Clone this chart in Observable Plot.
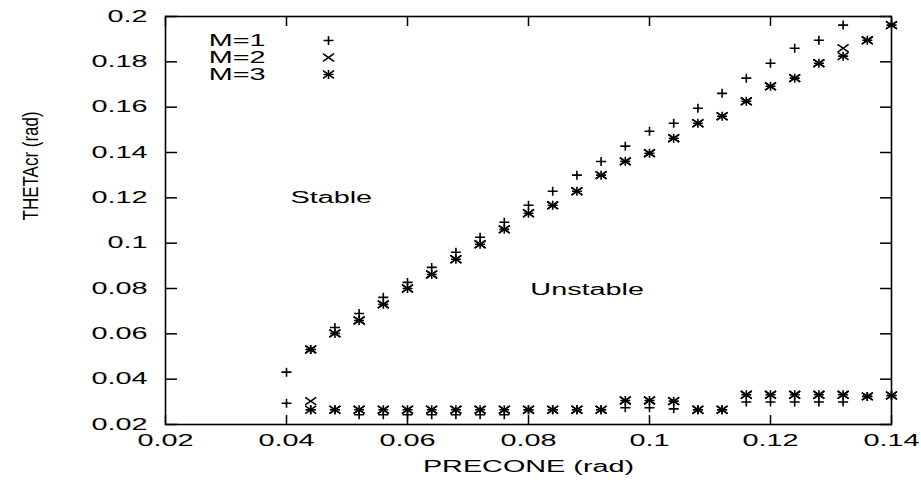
<!DOCTYPE html>
<html>
<head>
<meta charset="utf-8">
<script src="https://cdn.jsdelivr.net/npm/d3@7"></script>
<script src="https://cdn.jsdelivr.net/npm/@observablehq/plot@0.6"></script>
<style>
  html, body { margin: 0; padding: 0; background: white; }
</style>
</head>
<body>
<div id="chart"></div>
<script>
// ---- data ----
const precone = [0.040,0.044,0.048,0.052,0.056,0.060,0.064,0.068,0.072,0.076,0.080,0.084,0.088,0.092,0.096,0.100,0.104,0.108,0.112,0.116,0.120,0.124,0.128,0.132,0.136,0.140];

const m1Upper = [0.0431,0.0531,0.0628,0.0690,0.0761,0.0827,0.0893,0.0960,0.1026,0.1092,0.1167,0.1229,0.1300,0.1360,0.1428,0.1494,0.1529,0.1595,0.1661,0.1728,0.1794,0.1860,0.1895,0.1962,null,null];
const m1Lower = [0.0294,0.0265,0.0265,0.0243,0.0243,0.0243,0.0243,0.0243,0.0243,0.0243,0.0265,0.0265,0.0265,0.0265,0.0274,0.0274,0.0269,0.0265,0.0265,0.0299,0.0299,0.0299,0.0299,0.0299,0.0324,0.0328];

const m2Upper = [null,0.0531,0.0602,0.0659,0.0730,0.0800,0.0862,0.0929,0.0995,0.1061,0.1132,0.1167,0.1229,0.1300,0.1361,0.1397,0.1463,0.1529,0.1560,0.1626,0.1692,0.1728,0.1794,0.1860,0.1895,0.1962];
const m2Lower = [null,0.0303,0.0265,0.0265,0.0265,0.0265,0.0265,0.0265,0.0265,0.0265,0.0265,0.0265,0.0265,0.0265,0.0306,0.0306,0.0303,0.0265,0.0265,0.0331,0.0331,0.0331,0.0331,0.0331,0.0324,0.0328];

const m3Upper = [null,0.0531,0.0602,0.0659,0.0730,0.0800,0.0862,0.0929,0.0995,0.1061,0.1132,0.1167,0.1229,0.1300,0.1361,0.1397,0.1463,0.1529,0.1560,0.1626,0.1692,0.1728,0.1794,0.1825,0.1895,0.1962];
const m3Lower = [null,0.0265,0.0265,0.0265,0.0265,0.0265,0.0265,0.0265,0.0265,0.0265,0.0265,0.0265,0.0265,0.0265,0.0306,0.0306,0.0303,0.0265,0.0265,0.0331,0.0331,0.0331,0.0331,0.0331,0.0324,0.0328];

const xTicks = [0.02,0.04,0.06,0.08,0.1,0.12,0.14];
const xTickLabels = ["0.02","0.04","0.06","0.08","0.1","0.12","0.14"];
const yTicks = [0.02,0.04,0.06,0.08,0.1,0.12,0.14,0.16,0.18,0.2];
const yTickLabels = ["0.02","0.04","0.06","0.08","0.1","0.12","0.14","0.16","0.18","0.2"];

const legendLabels = ["M=1","M=2","M=3"];
const regionLabels = ["Stable","Unstable"];
const regionX = [0.0474, 0.0897];
const regionY = [0.1198, 0.0792];

const xLabel = "PRECONE (rad)";
const yLabel = "THETAcr (rad)";

// ---- build rows ----
function rows(values) {
  return precone.map((x, i) => ({x, y: values[i]})).filter(d => d.y != null);
}
const m1 = rows(m1Upper).concat(rows(m1Lower));
const m2 = rows(m2Upper).concat(rows(m2Lower));
const m3 = rows(m3Upper).concat(rows(m3Lower));
const regions = regionLabels.map((t, i) => ({t, x: regionX[i], y: regionY[i]}));

// gnuplot-like point glyphs
const plusSym = {draw(c) { c.moveTo(-5, 0); c.lineTo(5, 0); c.moveTo(0, -4.5); c.lineTo(0, 4.5); }};
const timesSym = {draw(c) { c.moveTo(-5.5, -3.8); c.lineTo(5.5, 3.8); c.moveTo(-5.5, 3.8); c.lineTo(5.5, -3.8); }};

const dotStyle = {stroke: "black", strokeWidth: 1.6, r: 4, fill: "none"};
const fmtX = d => xTickLabels[xTicks.indexOf(d)];
const fmtY = d => yTickLabels[yTicks.indexOf(d)];
const blank = () => "";

const legendSymbols = [[plusSym], [timesSym], [plusSym, timesSym]];
const legendMarks = legendLabels.flatMap((lab, i) => [
  Plot.text([lab], {text: d => d, frameAnchor: "top-left", dx: 100, dy: 24 + 17 * i, textAnchor: "end", lineAnchor: "middle", fill: "black"}),
  ...legendSymbols[i].map(s => Plot.dot([lab], {frameAnchor: "top-left", dx: 163, dy: 24 + 17 * i, symbol: s, ...dotStyle}))
]);

const chart = Plot.plot({
  width: 921,
  height: 482,
  marginLeft: 165,
  marginRight: 30,
  marginTop: 16,
  marginBottom: 58,
  style: {fontFamily: "'Liberation Sans', Arial, Helvetica, sans-serif", fontSize: "16px", background: "white", color: "black"},
  x: {domain: [0.02, 0.14]},
  y: {domain: [0.02, 0.2]},
  marks: [
    Plot.frame({stroke: "black", strokeWidth: 1.6}),
    // tick labels
    Plot.axisY({anchor: "left", ticks: yTicks, tickFormat: fmtY, tickSize: 0, tickPadding: 18, label: null, fill: "black"}),
    Plot.axisX({anchor: "bottom", ticks: xTicks, tickFormat: fmtX, tickSize: 0, tickPadding: 10, label: null, fill: "black"}),
    // inward ticks on all sides
    Plot.axisY({anchor: "left", ticks: yTicks, tickFormat: blank, tickSize: 12, dx: 12, label: null, strokeWidth: 1.5}),
    Plot.axisY({anchor: "right", ticks: yTicks, tickFormat: blank, tickSize: 12, dx: -12, label: null, strokeWidth: 1.5}),
    Plot.axisX({anchor: "bottom", ticks: xTicks, tickFormat: blank, tickSize: 9, dy: -9, label: null, strokeWidth: 1.5}),
    Plot.axisX({anchor: "top", ticks: xTicks, tickFormat: blank, tickSize: 9, dy: 9, label: null, strokeWidth: 1.5}),
    // axis titles
    Plot.text([xLabel], {text: d => d, frameAnchor: "bottom", dy: 42, lineAnchor: "middle", fill: "black"}),
    Plot.text([yLabel], {text: d => d, frameAnchor: "left", dx: -135, rotate: -90, lineAnchor: "middle", fontSize: 17, fill: "black"}),
    // region annotations
    Plot.text(regions, {x: "x", y: "y", text: "t", lineAnchor: "middle", fill: "black"}),
    // data
    Plot.dot(m1, {x: "x", y: "y", symbol: plusSym, ...dotStyle}),
    Plot.dot(m2, {x: "x", y: "y", symbol: timesSym, ...dotStyle}),
    Plot.dot(m3, {x: "x", y: "y", symbol: plusSym, ...dotStyle}),
    Plot.dot(m3, {x: "x", y: "y", symbol: timesSym, ...dotStyle}),
    ...legendMarks
  ]
});

document.getElementById("chart").appendChild(chart);

// widen the lettering like the scanned original
chart.querySelectorAll("text").forEach(t => {
  if (!t.textContent) return;
  const tr = t.getAttribute("transform") || "";
  if (/rotate/.test(tr)) {
    t.setAttribute("transform", tr + " scale(1,1.3)");
    return;
  }
  const w = t.getComputedTextLength();
  if (w > 0) {
    t.setAttribute("textLength", (w * 1.8).toFixed(1));
    t.setAttribute("lengthAdjust", "spacingAndGlyphs");
  }
});
</script>
</body>
</html>
